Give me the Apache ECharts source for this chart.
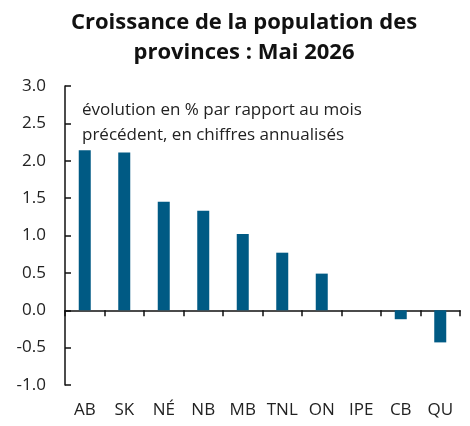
<!DOCTYPE html>
<html>
<head>
<meta charset="utf-8">
<script src="https://cdn.jsdelivr.net/npm/echarts@6/dist/echarts.min.js"></script>
<style>
html, body { margin: 0; padding: 0; background: #fff; }
#main { width: 470px; height: 426px; }
</style>
</head>
<body>
<div id="main"></div>
<script>
var provinces = ["AB", "SK", "NÉ", "NB", "MB", "TNL", "ON", "IPE", "CB", "QU"];
var growth = [2.14, 2.11, 1.45, 1.33, 1.02, 0.77, 0.49, 0, -0.12, -0.43];
var titleText = "Croissance de la population des\nprovinces : Mai 2026";
var noteText = "évolution en % par rapport au mois\nprécédent, en chiffres annualisés";

var fontName = "Open Sans";
var myChart = echarts.init(document.getElementById("main"));
var option = {
    animation: false,
    textStyle: { fontFamily: fontName },
    title: [{
        text: titleText,
        left: 239,
        textAlign: "center",
        top: 3,
        textStyle: { fontFamily: fontName, fontSize: 22, fontWeight: "bold", color: "#111", lineHeight: 30 }
    }, {
        text: noteText,
        left: 77,
        top: 93,
        textStyle: { fontFamily: fontName, fontSize: 17, fontWeight: "normal", color: "#222", lineHeight: 25 }
    }],
    grid: { left: 65, right: 10, top: 86, bottom: 41 },
    xAxis: [{
        type: "category",
        data: provinces,
        position: "bottom",
        axisLine: { show: false, onZero: false },
        axisTick: { show: false },
        axisLabel: { color: "#222", fontSize: 17, margin: 17, interval: 0, hideOverlap: false }
    }, {
        type: "category",
        data: provinces,
        position: "bottom",
        axisLine: { show: true, onZero: true, lineStyle: { color: "#111", width: 1.5 } },
        axisTick: { show: true, length: 6, lineStyle: { color: "#111", width: 1.5 } },
        axisLabel: { show: false }
    }],
    yAxis: {
        type: "value",
        min: -1,
        max: 3,
        interval: 0.5,
        axisLine: { show: true, lineStyle: { color: "#111", width: 1.5 } },
        axisTick: { show: true, inside: true, length: 6, lineStyle: { color: "#111", width: 1.5 } },
        splitLine: { show: false },
        axisLabel: {
            color: "#222",
            fontSize: 17,
            margin: 19,
            formatter: function (v) { return v.toFixed(1); }
        }
    },
    series: [{
        type: "bar",
        xAxisIndex: 0,
        data: growth,
        barWidth: 12,
        itemStyle: { color: "#005a84" }
    }]
};
myChart.setOption(option);
</script>
</body>
</html>
